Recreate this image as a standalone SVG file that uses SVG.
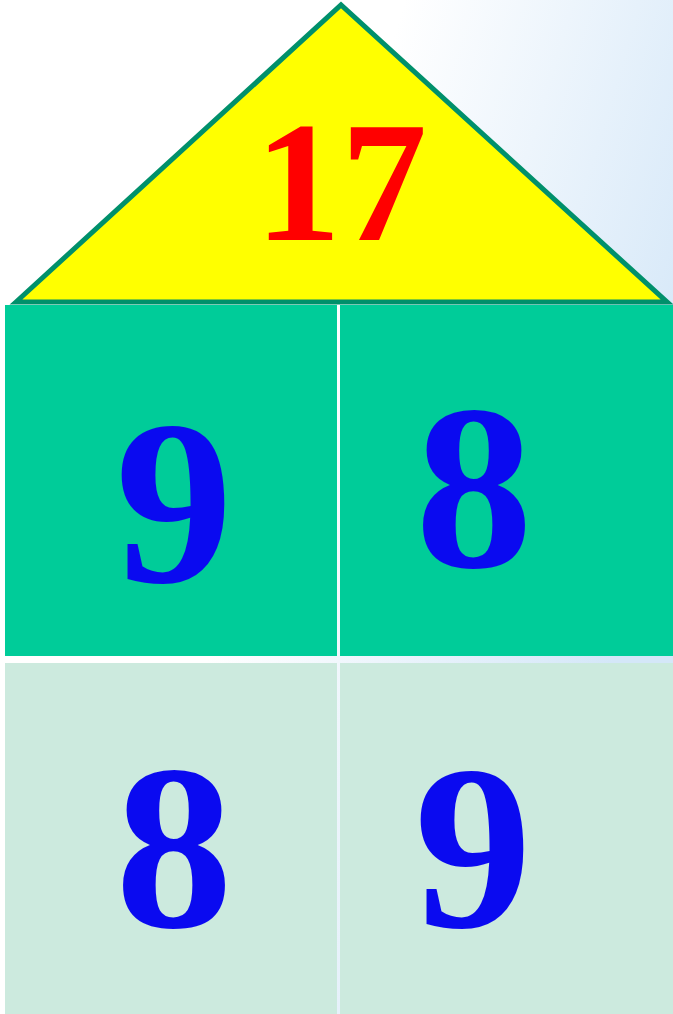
<svg xmlns="http://www.w3.org/2000/svg" width="673" height="1014" viewBox="0 0 673 1014">
  <defs>
    <linearGradient id="bg" x1="0" y1="0" x2="1" y2="0.45">
      <stop offset="0" stop-color="#ffffff"/>
      <stop offset="0.5" stop-color="#ffffff"/>
      <stop offset="1" stop-color="#d4e7f8"/>
    </linearGradient>
    <style>
      .num { font-family: "Liberation Serif", "Times New Roman", serif; font-weight: bold; text-anchor: middle; }
      .blue { fill: #0a0af0; font-size: 235px; }
      .red { fill: #ff0000; font-size: 172px; }
      .top { fill: #00cc99; }
      .bot { fill: #cceade; }
    </style>
  </defs>
  <rect x="0" y="0" width="673" height="1014" fill="url(#bg)"/>
  <g id="roof">
    <polygon points="16,302 341,5 667,302" fill="#ffff00" stroke="#00906b" stroke-width="5" stroke-linejoin="miter"/>
    <text class="num red" x="341" y="240">17</text>
  </g>
  <g id="cell-top-left">
    <rect class="top" x="5" y="305" width="332" height="351"/>
    <text class="num blue" x="174" y="582">9</text>
  </g>
  <g id="cell-top-right">
    <rect class="top" x="340" y="305" width="333" height="351"/>
    <text class="num blue" x="474" y="567">8</text>
  </g>
  <g id="cell-bottom-left">
    <rect class="bot" x="5" y="663" width="332" height="351"/>
    <text class="num blue" x="174" y="927">8</text>
  </g>
  <g id="cell-bottom-right">
    <rect class="bot" x="340" y="663" width="333" height="351"/>
    <text class="num blue" x="473" y="927">9</text>
  </g>
  <g id="connectors"/>
</svg>
